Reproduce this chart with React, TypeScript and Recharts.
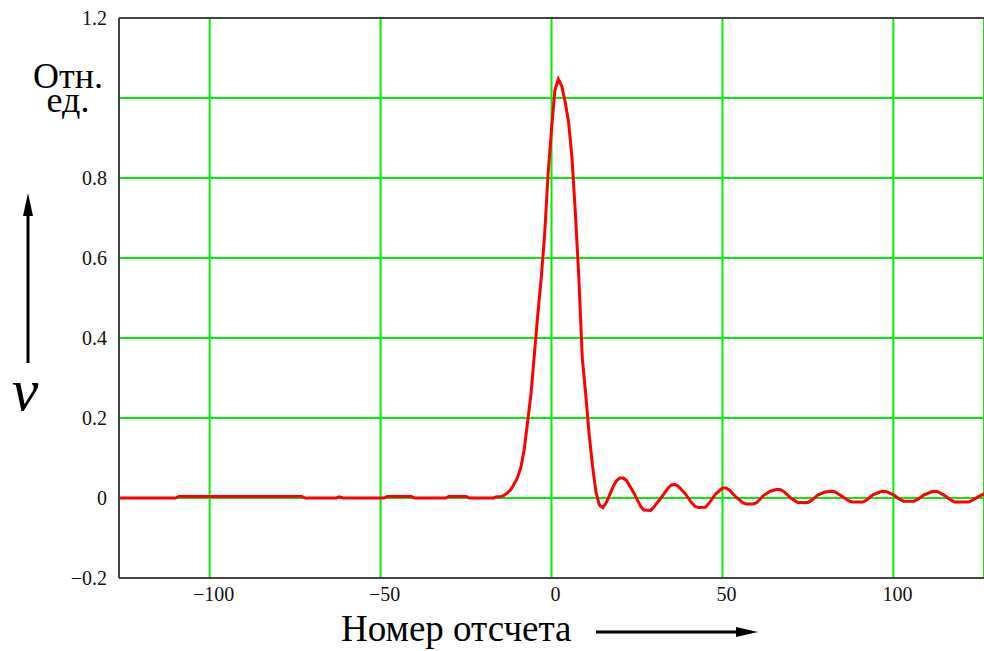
import { CartesianGrid, Line, LineChart, ReferenceLine, XAxis, YAxis } from "recharts";

// sample number (Номер отсчета) and relative amplitude (Отн. ед.)
const sampleNo = [
  -127, -110, -109, -73, -72, -63, -62, -61, -49, -48, -41, -40, -31, -30, -25, -24, -17, -16, -15,
  -14, -13, -12, -11, -10, -9, -8, -7, -6, -5, -4, -3, -2, -1, 0, 1, 2, 3, 4, 5, 6, 7, 8, 9, 10, 11, 12,
  13, 14, 15, 16, 17, 18, 19, 20, 21, 22, 24, 25, 26, 27, 29, 30, 32, 34, 35, 36, 37, 39, 40, 41, 42,
  43, 45, 46, 48, 50, 51, 52, 54, 56, 57, 59, 60, 62, 64, 66, 67, 68, 70, 72, 75, 76, 78, 80, 82, 83,
  85, 87, 88, 91, 92, 94, 96, 97, 98, 100, 102, 103, 106, 107, 109, 111, 112, 113, 115, 117, 118, 122,
  123, 125, 127,
];
const amplitude = [
  0, 0, 0.004, 0.004, 0, 0, 0.003, 0, 0, 0.004, 0.004, 0, 0, 0.004, 0.004, 0, 0, 0.003, 0.003,
  0.006, 0.012, 0.02, 0.034, 0.05, 0.075, 0.12, 0.19, 0.26, 0.36, 0.46, 0.55, 0.66, 0.81, 0.92, 1.02,
  1.047, 1.03, 0.99, 0.94, 0.85, 0.71, 0.55, 0.35, 0.26, 0.16, 0.08,
  0.015, -0.018, -0.024, -0.012, 0.008, 0.028, 0.043, 0.05, 0.05, 0.043, 0.014, -0.003, -0.02, -0.03,
  -0.031, -0.022, 0, 0.024, 0.032, 0.034, 0.03, 0.012, 0, -0.012, -0.021,
  -0.024, -0.023, -0.014, 0.01, 0.025, 0.025, 0.02, 0.002, -0.012, -0.015, -0.015, -0.012, 0.006,
  0.017, 0.022, 0.021, 0.016, 0, -0.011, -0.011, -0.006, 0.008, 0.015, 0.017, 0.015,
  0.004, -0.007, -0.01, -0.01, -0.006, 0.008, 0.015, 0.017, 0.016, 0.008, -0.004, -0.008, -0.008,
  -0.004, 0.008, 0.015, 0.017, 0.016, 0.006, -0.006, -0.01, -0.01,
  -0.006, 0.004, 0.012,
];
const xTicks = [-100, -50, 0, 50, 100];
const yTicks = [-0.2, 0, 0.2, 0.4, 0.6, 0.8, 1, 1.2];
// the "1" label is covered by the unit caption in the original
const hiddenYLabels = [1];

const data = sampleNo.map((n, i) => ({ n, v: amplitude[i] }));

const serif = "'Liberation Serif', 'Times New Roman', serif";
const fmt = (v: number) => {
  const s = Number.isInteger(v) ? String(Math.abs(v)) : Math.abs(v).toFixed(1);
  return v < 0 ? "\u2212" + s : s;
};

const XTick = ({ x, payload }: any) => (
  <text x={x + 4} y={601} textAnchor="middle" fontSize={20} fontFamily={serif} fill="#111">
    {fmt(payload.value)}
  </text>
);
const YTick = ({ y, payload }: any) =>
  hiddenYLabels.includes(payload.value) ? (
    <g />
  ) : (
    <text x={107} y={y} dy="0.35em" textAnchor="end" fontSize={20} fontFamily={serif} fill="#111">
      {fmt(payload.value)}
    </text>
  );

export default function App() {
  return (
    <div style={{ position: "absolute", left: 0, top: 0, width: 984, height: 651, background: "#fff" }}>
      <LineChart width={984} height={651} data={data} margin={{ top: 18, right: 0, bottom: 0, left: 0 }}>
        <CartesianGrid stroke="#00f000" strokeWidth={2} />
        <XAxis
          dataKey="n"
          type="number"
          domain={[-126.5, 126.5]}
          ticks={xTicks}
          height={73}
          tickLine={false}
          axisLine={{ stroke: "#444", strokeWidth: 2 }}
          tick={<XTick />}
          allowDataOverflow
        />
        <YAxis
          type="number"
          domain={[-0.2, 1.2]}
          ticks={yTicks}
          width={119}
          tickLine={false}
          axisLine={{ stroke: "#444", strokeWidth: 2 }}
          tick={<YTick />}
          allowDataOverflow
        />
        <ReferenceLine y={1.2} stroke="#444" strokeWidth={2} />
        <Line
          type="linear"
          dataKey="v"
          stroke="#ff0000"
          strokeWidth={3}
          dot={false}
          isAnimationActive={false}
        />
      </LineChart>
      <svg
        width={984}
        height={651}
        style={{ position: "absolute", left: 0, top: 0, pointerEvents: "none" }}
      >
        <text textAnchor="middle" fontSize={36} fontFamily={serif} fill="#000">
          <tspan x={68} y={88}>Отн.</tspan>
          <tspan x={68} y={112}>ед.</tspan>
        </text>
        <text x={25} y={410} textAnchor="middle" fontSize={60} fontStyle="italic" fontFamily={serif} fill="#000">
          v
        </text>
        <line x1={28} y1={363} x2={28} y2={210} stroke="#000" strokeWidth={3} />
        <polygon points="28,193 23,216 33,216" fill="#000" />
        <text x={341} y={641} fontSize={37} fontFamily={serif} fill="#000">
          Номер отсчета
        </text>
        <line x1={596} y1={632} x2={742} y2={632} stroke="#000" strokeWidth={3} />
        <polygon points="758,632 736,627 736,637" fill="#000" />
      </svg>
    </div>
  );
}
